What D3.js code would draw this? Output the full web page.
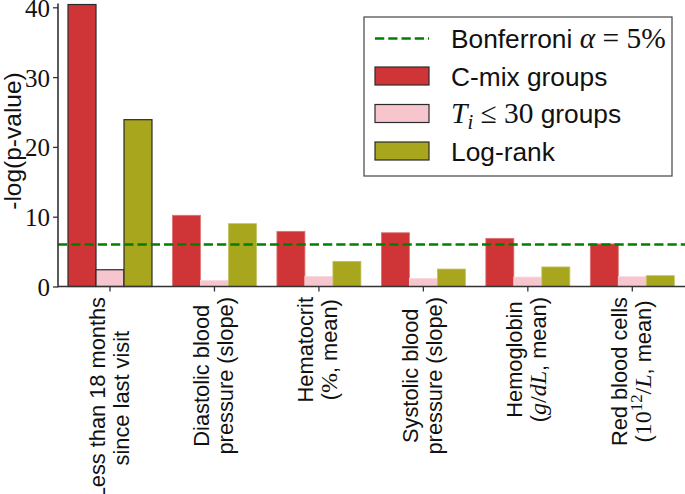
<!DOCTYPE html>
<html><head><meta charset="utf-8">
<script src="https://cdn.jsdelivr.net/npm/d3@7"></script>
<style>
html,body{margin:0;padding:0;background:#fff;}
svg{display:block;}
</style>
</head><body>
<svg id="chart" width="685" height="494"></svg>
<script>
// ---- data ----
const categories = ["lt18", "diastolic", "hematocrit", "systolic", "hemoglobin", "rbc"];
const categoryLabels = [
  ["Less than 18 months", "since last visit"],
  ["Diastolic blood", "pressure (slope)"],
  ["Hematocrit", "($\\%$, mean)"],
  ["Systolic blood", "pressure (slope)"],
  ["Hemoglobin", "($g/dL$, mean)"],
  ["Red blood cells", "($10^{12}/L$, mean)"]
];
const cmixValues    = [40.4, 10.2, 7.9, 7.7, 6.9, 6.1];
const ti30Values    = [2.4, 0.85, 1.45, 1.15, 1.35, 1.4];
const logrankValues = [23.9, 9.0, 3.6, 2.5, 2.8, 1.55];
const bonferroni = 6.0;
const yTicks = [0, 10, 20, 30, 40];
const seriesNames = ["cmix", "ti30", "logrank"];
const legendLabels = ["Bonferroni $\\alpha = 5\\%$", "C-mix groups", "$T_i \\leq 30$ groups", "Log-rank"];

// ---- styles ----
const colors = {cmix: "#cf3536", ti30: "#f6c5cd", logrank: "#a7a61c"};
const SANS = "'Liberation Sans', Arial, Helvetica, sans-serif";
const SERIF = "'Liberation Serif', 'Times New Roman', serif";

const svg = d3.select("#chart");
const axisX0 = 58, axisX1 = 685, axisY = 286.5;

const x = d3.scaleBand().domain(categories).range([57.77, 684.53]).paddingInner(0.196).paddingOuter(0.098);
const xs = d3.scaleBand().domain(seriesNames).range([0, x.bandwidth()]);
const y = d3.scaleLinear().domain([0, 40]).range([axisY, 7.3]);

const table = categories.map((c, i) => ({cat: c, i, cmix: cmixValues[i], ti30: ti30Values[i], logrank: logrankValues[i]}));

// rich text renderer: $...$ math, letters italic serif, ^{..} superscript, _x subscript
function rich(textSel, str, size, mathScale) {
  const msize = size * (mathScale || 1.1);
  let pendingDy = 0;
  function add(family, fs, txt) {
    const t = textSel.append("tspan").attr("font-family", family).attr("font-size", fs).text(txt);
    if (pendingDy) { t.attr("dy", pendingDy); pendingDy = 0; }
    return t;
  }
  const parts = str.split("$");
  parts.forEach((p, k) => {
    if (!p) return;
    if (k % 2 === 0) {
      add(SANS, size, p);
    } else {
      let s = p.replace(/\\alpha/g, "α").replace(/\\leq/g, "≤").replace(/\\%/g, "%");
      let idx = 0;
      while (idx < s.length) {
        const ch = s[idx];
        if (ch === "^" || ch === "_") {
          let content;
          if (s[idx + 1] === "{") { const e = s.indexOf("}", idx); content = s.slice(idx + 2, e); idx = e + 1; }
          else { content = s[idx + 1]; idx += 2; }
          const shift = ch === "^" ? -0.36 * msize : 0.22 * msize;
          const t = add(SERIF, msize * 0.7, content);
          t.attr("dy", shift + (+t.attr("dy") || 0));
          if (/[A-Za-z]/.test(content)) t.attr("font-style", "italic");
          pendingDy = -shift;
          continue;
        }
        let j = idx; const isLetter = /[A-Za-zα]/.test(ch);
        while (j < s.length && s[j] !== "^" && s[j] !== "_" && (/[A-Za-zα]/.test(s[j]) === isLetter)) j++;
        let seg = s.slice(idx, j);
        const t = add(SERIF, msize, seg);
        if (isLetter) t.attr("font-style", "italic");
        idx = j;
      }
    }
  });
}

// ---- bars ----
const groups = svg.append("g").selectAll("g").data(table).join("g")
  .attr("transform", d => `translate(${x(d.cat)},0)`);
groups.selectAll("rect").data(d => seriesNames.map(s => ({s, v: d[s], first: d.i === 0}))).join("rect")
  .attr("x", d => xs(d.s))
  .attr("width", xs.bandwidth())
  .attr("y", d => y(d.v))
  .attr("height", d => y(0) - y(d.v))
  .attr("fill", d => colors[d.s])
  .attr("stroke", d => d.first ? "#2b2b2b" : d3.interpolateRgb(colors[d.s], "#ffffff")(0.3))
  .attr("stroke-width", d => d.first ? 1.2 : 0.8);

// ---- bonferroni line ----
svg.append("line").attr("x1", axisX0).attr("x2", axisX1)
  .attr("y1", y(bonferroni)).attr("y2", y(bonferroni))
  .attr("stroke", "#008000").attr("stroke-width", 2.5).attr("stroke-dasharray", "9.25,4");

// ---- axes ----
const yAxis = svg.append("g").attr("transform", `translate(${axisX0},0)`)
  .call(d3.axisLeft(y).tickValues(yTicks).tickSize(5).tickSizeOuter(0).tickPadding(3));
yAxis.select(".domain").remove();
yAxis.selectAll(".tick line").attr("stroke", "#333").attr("stroke-width", 1.3);
yAxis.selectAll(".tick text").attr("font-family", SERIF).attr("font-size", 25).attr("fill", "#111").attr("dy", "0.36em");
svg.append("line").attr("x1", axisX0).attr("x2", axisX0).attr("y1", 3.5).attr("y2", axisY + 0.8)
  .attr("stroke", "#333").attr("stroke-width", 1.6);

const xAxis = svg.append("g").attr("transform", `translate(0,${axisY})`)
  .call(d3.axisBottom(x).tickSize(5).tickSizeOuter(0).tickFormat(""));
xAxis.select(".domain").remove();
xAxis.selectAll(".tick line").attr("stroke", "#333").attr("stroke-width", 1.3);
svg.append("line").attr("x1", axisX0).attr("x2", axisX1).attr("y1", axisY).attr("y2", axisY)
  .attr("stroke", "#333").attr("stroke-width", 1.6);

// ---- x tick labels (rotated, two lines, centered) ----
const XFS = 21.8, blockTop = 297, lineOffsets = [-5.5, 18.5];
categories.forEach((c, i) => {
  const cx = x(c) + x.bandwidth() / 2;
  const g = svg.append("g").attr("transform", `translate(${cx},${blockTop}) rotate(-90)`);
  const texts = categoryLabels[i].map((ln, k) => {
    const t = g.append("text").attr("y", lineOffsets[k]).attr("text-anchor", "middle").attr("fill", "#111");
    rich(t, ln, XFS, 1.1);
    return t;
  });
  const L = d3.max(texts, t => t.node().getComputedTextLength());
  texts.forEach(t => t.attr("x", -L / 2));
});

// ---- y label ----
svg.append("text").attr("transform", `translate(21,141) rotate(-90)`)
  .attr("text-anchor", "middle").attr("font-family", SANS).attr("font-size", 24.5).attr("fill", "#111")
  .text("-log(p-value)");

// ---- legend ----
const lg = svg.append("g");
lg.append("rect").attr("x", 364).attr("y", 17).attr("width", 308).attr("height", 159)
  .attr("fill", "#fff").attr("stroke", "#444").attr("stroke-width", 1.2);
const rowsY = [38.5, 76, 113.5, 151];
lg.append("line").attr("x1", 375).attr("x2", 429).attr("y1", rowsY[0]).attr("y2", rowsY[0])
  .attr("stroke", "#008000").attr("stroke-width", 2.5).attr("stroke-dasharray", "9.25,4");
seriesNames.forEach((s, k) => {
  lg.append("rect").attr("x", 375).attr("y", rowsY[k + 1] - 9).attr("width", 54).attr("height", 18)
    .attr("fill", colors[s]).attr("stroke", "#2b2b2b").attr("stroke-width", 1.2);
});
legendLabels.forEach((lab, k) => {
  const t = lg.append("text").attr("x", 451).attr("y", rowsY[k] + 9.5).attr("fill", "#111");
  rich(t, lab, 26.3, 1.12);
});
</script>
</body></html>
